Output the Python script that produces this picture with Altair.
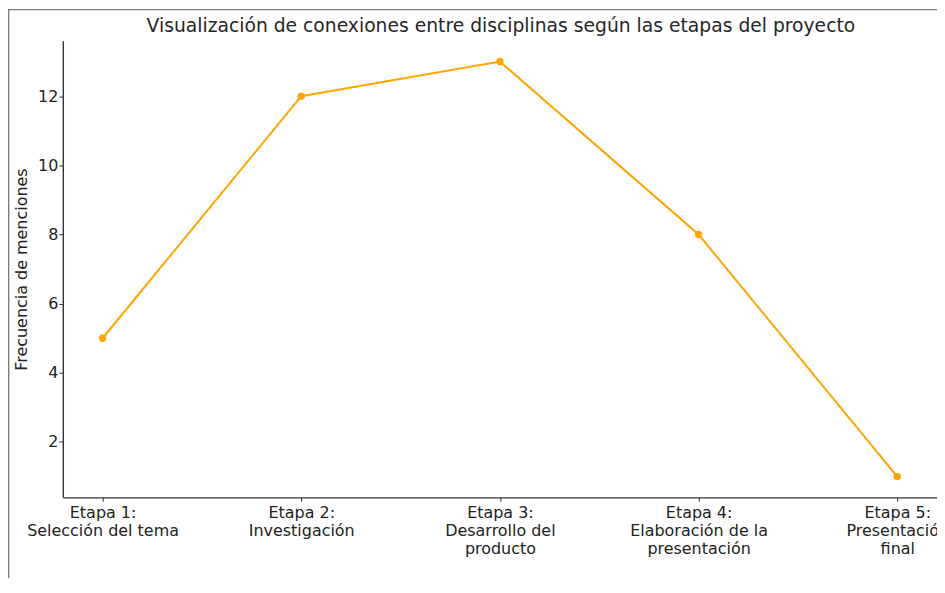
import altair as alt
import pandas as pd

etapas = [
    "Etapa 1:|Selección del tema",
    "Etapa 2:|Investigación",
    "Etapa 3:|Desarrollo del|producto",
    "Etapa 4:|Elaboración de la|presentación",
    "Etapa 5:|Presentación|final",
]
frecuencias = [5, 12, 13, 8, 1]
y_ticks = [2, 4, 6, 8, 10, 12]
titulo = "Visualización de conexiones entre disciplinas según las etapas del proyecto"

df = pd.DataFrame({"etapa": etapas, "frecuencia": frecuencias})

W, H = 877, 458
PL, PT, PB = 55, 32, 80
FS = 16

x_enc = alt.X(
    "etapa:N",
    sort=etapas,
    scale=alt.Scale(type="point", padding=0.2),
    axis=alt.Axis(
        title=None,
        labelAngle=0,
        labelExpr="split(datum.label, '|')",
        labelLineHeight=18,
        labelFontSize=FS,
        labelPadding=3,
        tickSize=4,
        tickColor="#333333",
        domainColor="#333333",
        domainWidth=1.4,
        labelColor="#222222",
        labelFont="DejaVu Sans",
    ),
)
y_enc = alt.Y(
    "frecuencia:Q",
    scale=alt.Scale(domain=[0.4, 13.6], nice=False, zero=False),
    axis=alt.Axis(
        title="Frecuencia de menciones",
        values=y_ticks,
        grid=False,
        tickSize=4,
        tickColor="#333333",
        domainColor="#333333",
        domainWidth=1.4,
        labelFontSize=FS,
        labelColor="#222222",
        labelPadding=1,
        titleFontSize=FS,
        titleFontWeight="normal",
        titleColor="#222222",
        titlePadding=8,
        labelFont="DejaVu Sans",
        titleFont="DejaVu Sans",
    ),
)

line = alt.Chart(df).mark_line(color="#FFA500", strokeWidth=2).encode(x=x_enc, y=y_enc)
pts = alt.Chart(df).mark_circle(color="#FFA500", size=55, opacity=1).encode(x=x_enc, y=y_enc)

title_mark = alt.Chart(pd.DataFrame({"t": [titulo]})).mark_text(
    fontSize=18.8, font="DejaVu Sans", color="#262626", align="center", baseline="middle"
).encode(text="t:N", x=alt.value(W / 2 + 1), y=alt.value(-15))

frame = alt.Chart(pd.DataFrame({"k": [0]})).mark_rect(
    fill="transparent", stroke="#777777", strokeWidth=1.3
).encode(
    x=alt.value(-PL + 0.7), x2=alt.value(W + 40), y=alt.value(-PT + 0.7), y2=alt.value(H + PB + 40)
)

chart = (
    alt.layer(frame, line, pts, title_mark)
    .properties(
        width=W,
        height=H,
        autosize=alt.AutoSizeParams(type="none"),
        padding={"left": PL, "top": PT, "right": 0, "bottom": PB},
    )
    .configure(background="white")
    .configure_view(stroke="transparent", strokeWidth=0)
)

chart.save("out.html", embed_options={"renderer": "svg", "actions": False})
